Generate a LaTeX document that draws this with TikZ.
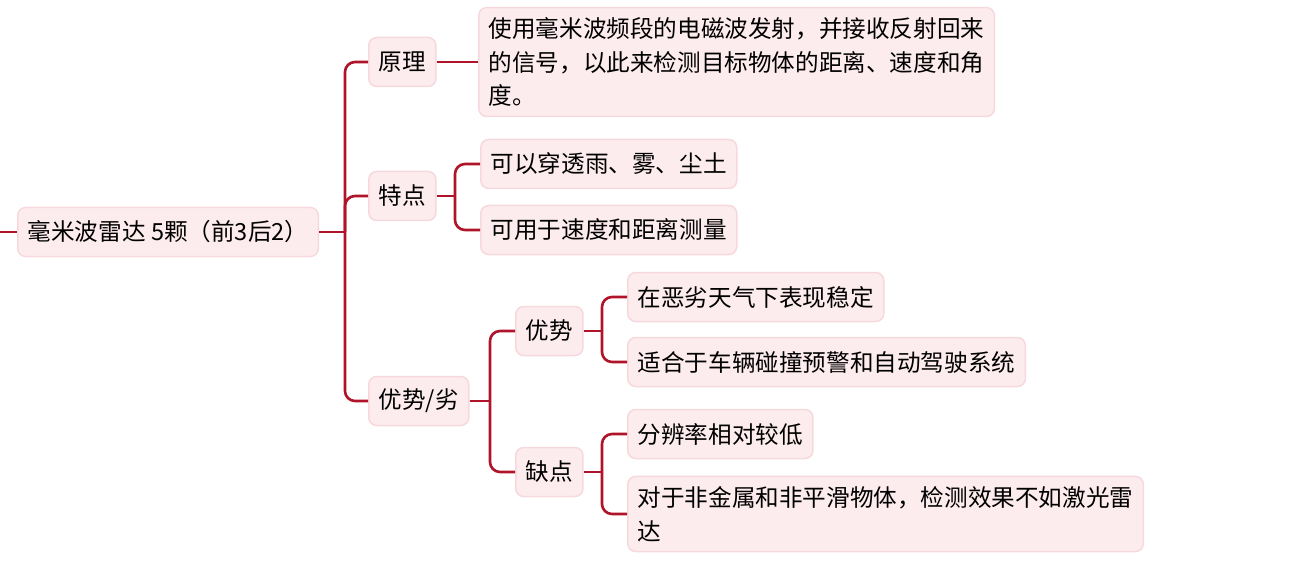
\documentclass[tikz,border=0pt]{standalone}
\usepackage{fontspec}
\setmainfont{Noto Sans CJK SC}
\usetikzlibrary{calc}
\definecolor{linecol}{HTML}{B0142A}
\definecolor{boxfill}{HTML}{FDECEE}
\definecolor{boxedge}{HTML}{F7D9DD}
\begin{document}
\begin{tikzpicture}[x=1pt,y=-1pt,
  box/.style={rectangle, rounded corners=8pt, fill=boxfill, draw=boxedge, line width=1.5pt,
    inner xsep=10pt, inner ysep=10pt, minimum height=49pt, anchor=west,
    font=\fontsize{23.6}{33.5}\selectfont, text=black, align=left},
  conn/.style={draw=linecol, line width=2.6pt, rounded corners=10pt}]
\useasboundingbox[fill=white] (0,0) rectangle (1298,564);

\node[box] (root) at (17,232) {毫米波雷达 5颗（前3后2）};
\node[box] (yl) at (368,62) {原理};
\node[box] (yld) at (478,62) {使用毫米波频段的电磁波发射，并接收反射回来\\的信号，以此来检测目标物体的距离、速度和角\\度。};
\node[box] (td) at (368,196) {特点};
\node[box] (td1) at (480,164) {可以穿透雨、雾、尘土};
\node[box] (td2) at (480,230) {可用于速度和距离测量};
\node[box] (ys) at (368,401) {优势/劣};
\node[box] (ys1) at (515,331) {优势};
\node[box] (ys11) at (627,297) {在恶劣天气下表现稳定};
\node[box] (ys12) at (627,362) {适合于车辆碰撞预警和自动驾驶系统};
\node[box] (qd) at (515,472) {缺点};
\node[box] (qd1) at (627,434) {分辨率相对较低};
\node[box] (qd2) at (627,514) {对于非金属和非平滑物体，检测效果不如激光雷\\达};

\coordinate (in) at (0,232);
\coordinate (j0) at (345,232);
\coordinate (j1) at (455,196);
\coordinate (j2) at (490,401);
\coordinate (j3) at (602,331);
\coordinate (j4) at (602,472);

\draw[conn] (in) -- (root.west);
\draw[conn] (root.east) -- (j0);
\draw[conn] (j0) |- (yl.west);
\draw[conn] (j0) |- (td.west);
\draw[conn] (j0) |- (ys.west);
\draw[conn] (yl.east) -- (yld.west);
\draw[conn] (td.east) -- (j1);
\draw[conn] (j1) |- (td1.west);
\draw[conn] (j1) |- (td2.west);
\draw[conn] (ys.east) -- (j2);
\draw[conn] (j2) |- (ys1.west);
\draw[conn] (j2) |- (qd.west);
\draw[conn] (ys1.east) -- (j3);
\draw[conn] (j3) |- (ys11.west);
\draw[conn] (j3) |- (ys12.west);
\draw[conn] (qd.east) -- (j4);
\draw[conn] (j4) |- (qd1.west);
\draw[conn] (j4) |- (qd2.west);
\end{tikzpicture}
\end{document}
